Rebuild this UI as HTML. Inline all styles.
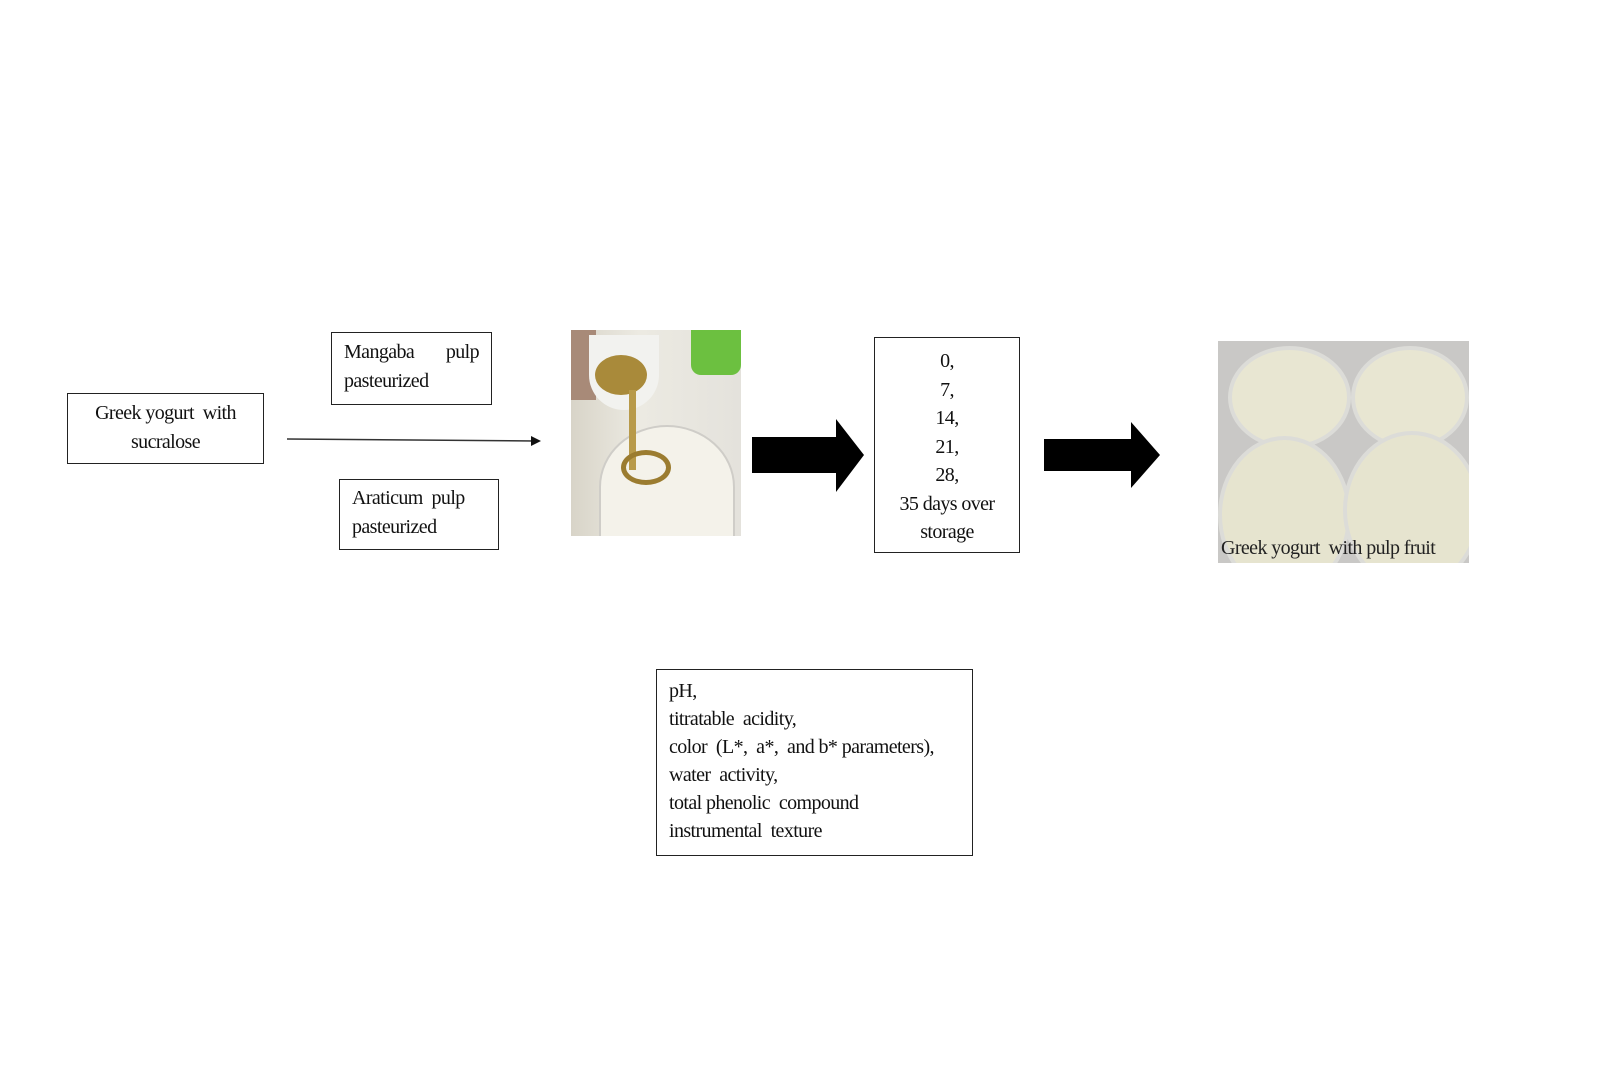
<!DOCTYPE html>
<html><head><meta charset="utf-8"><style>
body{margin:0;width:1600px;height:1066px;background:#fff;position:relative;overflow:hidden;font-family:"Liberation Serif",serif;font-size:20px;color:#111;letter-spacing:-0.6px}
.b{position:absolute;border:1.5px solid #222;box-sizing:border-box;line-height:29px}
.a{position:absolute;background:#000}
</style></head><body>
<div class="b" style="left:67px;top:393px;width:197px;height:71px;text-align:center;padding-top:5px">Greek yogurt&nbsp; with<br>sucralose</div>
<div class="b" style="left:331px;top:332px;width:161px;height:73px;padding:5px 12px"><div style="display:flex;justify-content:space-between"><span>Mangaba</span><span>pulp</span></div>pasteurized</div>
<div class="b" style="left:339px;top:479px;width:160px;height:71px;padding:4px 12px">Araticum&nbsp; pulp<br>pasteurized</div>
<svg style="position:absolute;left:0;top:0" width="1600" height="1066">
<line x1="287" y1="439" x2="535" y2="441" stroke="#333" stroke-width="1.5"/>
<polygon points="541,441 531,436 531,446" fill="#111"/>
<polygon points="752,437 836,437 836,419 864,455 836,492 836,473 752,473" fill="#000"/>
<polygon points="1044,439 1131,439 1131,422 1160,455 1131,488 1131,471 1044,471" fill="#000"/>
</svg>
<div style="position:absolute;left:571px;top:330px;width:170px;height:206px;overflow:hidden;background:linear-gradient(90deg,#d8d4c8,#eceae2 40%,#e4e2dc)">
<div style="position:absolute;left:120px;top:0;width:50px;height:45px;background:#6cc040;border-radius:0 0 10px 10px"></div>
<div style="position:absolute;left:0;top:0;width:25px;height:70px;background:#a88a78"></div>
<div style="position:absolute;left:18px;top:5px;width:70px;height:75px;background:#f2f2ef;border-radius:0 0 40px 40px"></div>
<div style="position:absolute;left:24px;top:25px;width:52px;height:40px;background:#a98a3a;border-radius:50%"></div>
<div style="position:absolute;left:28px;top:95px;width:132px;height:120px;background:#f4f2ea;border-radius:50% 50% 0 0;border:2px solid #cfcdc8"></div>
<div style="position:absolute;left:58px;top:60px;width:7px;height:80px;background:#b89a4a"></div>
<div style="position:absolute;left:50px;top:120px;width:40px;height:25px;border:5px solid #9b7c30;border-radius:50%"></div>
</div>
<div class="b" style="left:874px;top:337px;width:146px;height:216px;text-align:center;padding-top:9px;line-height:28.5px">0,<br>7,<br>14,<br>21,<br>28,<br>35 days over<br>storage</div>
<div style="position:absolute;left:1218px;top:341px;width:251px;height:222px;overflow:hidden;background:#c9c8c6">
<div style="position:absolute;left:10px;top:5px;width:115px;height:95px;background:#e8e6d2;border-radius:50%;border:4px solid #dcdcd8"></div>
<div style="position:absolute;left:133px;top:5px;width:110px;height:95px;background:#e8e6d2;border-radius:50%;border:4px solid #dcdcd8"></div>
<div style="position:absolute;left:0;top:95px;width:125px;height:150px;background:#e6e4cf;border-radius:50%;border:4px solid #dcdcd8"></div>
<div style="position:absolute;left:125px;top:90px;width:130px;height:150px;background:#e6e4cf;border-radius:50%;border:4px solid #dcdcd8"></div>
<div style="position:absolute;left:3px;bottom:3px;font-size:20px;color:#222;white-space:nowrap">Greek yogurt&nbsp; with pulp fruit</div>
</div>
<div class="b" style="left:656px;top:669px;width:317px;height:187px;padding:7px 12px;line-height:28px">pH,<br>titratable&nbsp; acidity,<br>color&nbsp; (L*,&nbsp; a*,&nbsp; and b* parameters),<br>water&nbsp; activity,<br>total phenolic&nbsp; compound<br>instrumental&nbsp; texture</div>
</body></html>
